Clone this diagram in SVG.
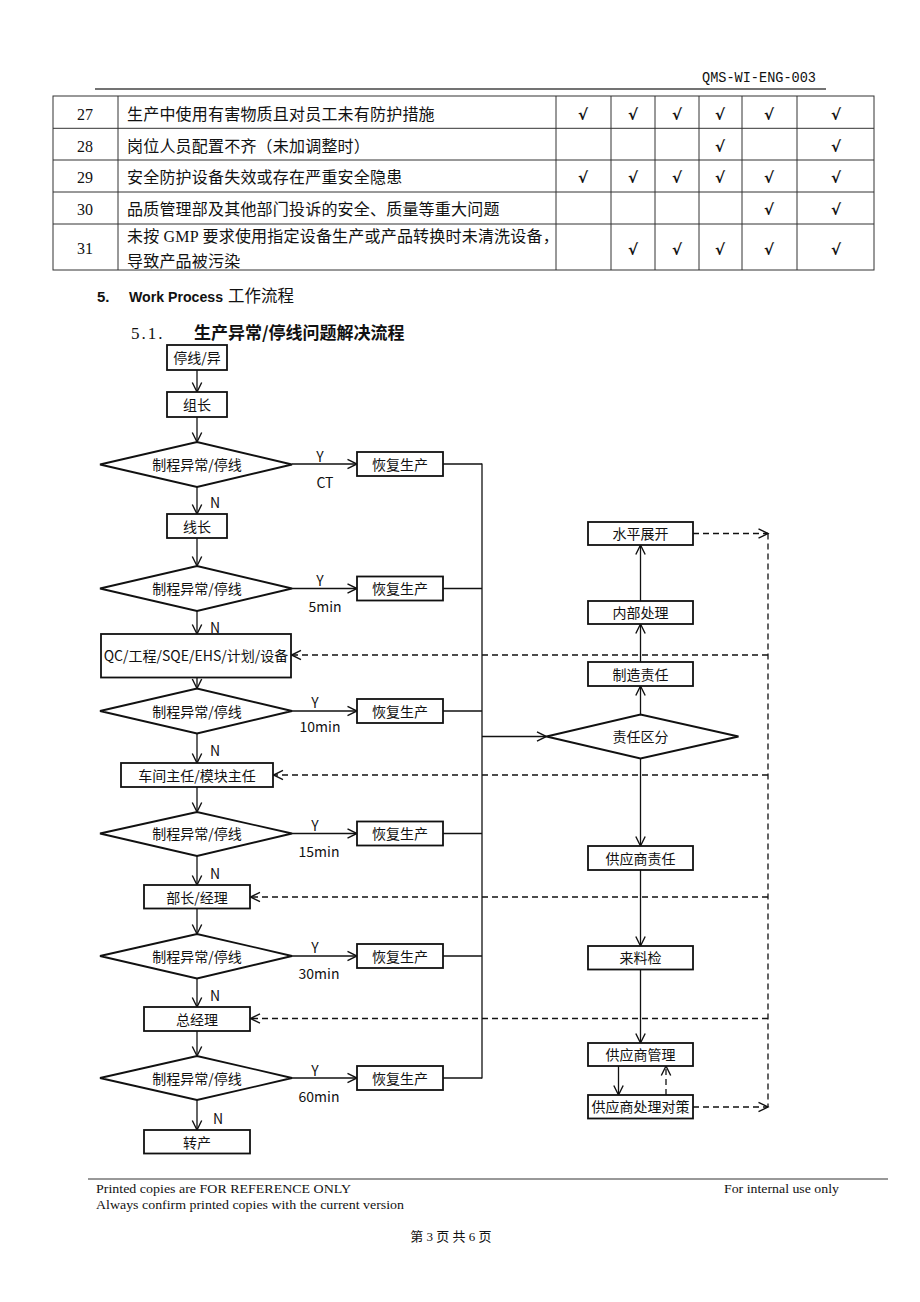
<svg xmlns="http://www.w3.org/2000/svg" width="920" height="1302" viewBox="0 0 920 1302">
<style>
.bg{fill:#fff}
.tl{stroke:#333;stroke-width:1;fill:none}
.tn{font-family:"Liberation Serif",serif;font-size:16px;fill:#111;text-anchor:middle}
.tt{font-family:"Liberation Serif","Noto Sans CJK SC",serif;font-size:16px;fill:#111;letter-spacing:0.2px}
.ck{font-family:"DejaVu Sans",sans-serif;font-size:15px;font-weight:bold;fill:#111;text-anchor:middle}
.box{fill:#fff;stroke:#111;stroke-width:1.8}
.lbl{font-family:"Noto Sans CJK SC",sans-serif;font-size:14px;fill:#111;text-anchor:middle}
.yl{font-family:"Noto Sans CJK SC",sans-serif;font-size:14px;fill:#111;text-anchor:middle}
.ln{stroke:#111;stroke-width:1.3;fill:none}
.ar{stroke:#111;stroke-width:1.3;fill:none;marker-end:url(#ah)}
.da{stroke:#111;stroke-width:1.3;fill:none;stroke-dasharray:6,4}
.dar{stroke:#111;stroke-width:1.3;fill:none;stroke-dasharray:6,4;marker-end:url(#ah)}
.ft{font-family:"Liberation Serif","Noto Sans CJK SC",serif;font-size:13px;fill:#111}
</style>
<defs>
<marker id="ah" viewBox="0 0 10 10" refX="9.5" refY="5" markerWidth="10" markerHeight="10" markerUnits="userSpaceOnUse" orient="auto" overflow="visible">
<path d="M0,0.3 L9.5,5 L0,9.7" fill="none" stroke="#111" stroke-width="1.4"/>
</marker>
</defs>
<rect class="bg" x="0" y="0" width="920" height="1302"/>

<g id="header">
<text x="702" y="82" font-family="Liberation Mono,monospace" font-size="14" fill="#111" textLength="114" lengthAdjust="spacingAndGlyphs">QMS-WI-ENG-003</text>
<line x1="95" y1="89" x2="826" y2="89" stroke="#444" stroke-width="1.6"/>
</g>

<g id="table">
<rect class="tl" x="53" y="96" width="821" height="174"/>
<line class="tl" x1="53" y1="128.3" x2="874" y2="128.3"/>
<line class="tl" x1="53" y1="160" x2="874" y2="160"/>
<line class="tl" x1="53" y1="192" x2="874" y2="192"/>
<line class="tl" x1="53" y1="224" x2="874" y2="224"/>
<line class="tl" x1="118" y1="96" x2="118" y2="270"/>
<line class="tl" x1="556" y1="96" x2="556" y2="270"/>
<line class="tl" x1="611" y1="96" x2="611" y2="270"/>
<line class="tl" x1="655" y1="96" x2="655" y2="270"/>
<line class="tl" x1="699" y1="96" x2="699" y2="270"/>
<line class="tl" x1="742" y1="96" x2="742" y2="270"/>
<line class="tl" x1="797" y1="96" x2="797" y2="270"/>
<text class="tn" x="85" y="120">27</text>
<text class="tn" x="85" y="152">28</text>
<text class="tn" x="85" y="183">29</text>
<text class="tn" x="85" y="215">30</text>
<text class="tn" x="85" y="254">31</text>
<text class="tt" x="127" y="120">生产中使用有害物质且对员工未有防护措施</text>
<text class="tt" x="127" y="152">岗位人员配置不齐（未加调整时）</text>
<text class="tt" x="127" y="183">安全防护设备失效或存在严重安全隐患</text>
<text class="tt" x="127" y="215">品质管理部及其他部门投诉的安全、质量等重大问题</text>
<text class="tt" x="127" y="242">未按 GMP 要求使用指定设备生产或产品转换时未清洗设备，</text>
<text class="tt" x="127" y="267">导致产品被污染</text>
<g class="ck">
<text x="583" y="120">√</text><text x="633" y="120">√</text><text x="677" y="120">√</text><text x="720" y="120">√</text><text x="769" y="120">√</text><text x="836" y="120">√</text>
<text x="720" y="152">√</text><text x="836" y="152">√</text>
<text x="583" y="183">√</text><text x="633" y="183">√</text><text x="677" y="183">√</text><text x="720" y="183">√</text><text x="769" y="183">√</text><text x="836" y="183">√</text>
<text x="769" y="215">√</text><text x="836" y="215">√</text>
<text x="633" y="255">√</text><text x="677" y="255">√</text><text x="720" y="255">√</text><text x="769" y="255">√</text><text x="836" y="255">√</text>
</g>
</g>

<g id="headings">
<text x="97" y="302" font-family="Liberation Sans,sans-serif" font-size="15" font-weight="bold" fill="#111">5.</text>
<text x="129" y="302" font-family="Liberation Sans,sans-serif" font-size="15" font-weight="bold" fill="#111" textLength="94" lengthAdjust="spacingAndGlyphs">Work Process</text>
<text x="228" y="302" font-family="Noto Sans CJK SC,sans-serif" font-size="16.5" fill="#111">工作流程</text>
<text x="131" y="339" font-family="Liberation Serif,serif" font-size="17" fill="#111" letter-spacing="2">5.1.</text>
<text x="194" y="339" font-family="Noto Sans CJK SC,sans-serif" font-size="17" font-weight="bold" fill="#111">生产异常/停线问题解决流程</text>
</g>

<g id="connectors">
<line class="ar" x1="197" y1="370" x2="197" y2="392"/>
<line class="ar" x1="197" y1="417" x2="197" y2="442"/>
<line class="ar" x1="197" y1="487" x2="197" y2="514"/>
<line class="ar" x1="197" y1="538" x2="197" y2="566"/>
<line class="ar" x1="197" y1="611" x2="197" y2="634"/>
<line class="ar" x1="197" y1="677.5" x2="197" y2="688.5"/>
<line class="ar" x1="197" y1="733.5" x2="197" y2="763"/>
<line class="ar" x1="197" y1="787" x2="197" y2="812"/>
<line class="ar" x1="197" y1="856" x2="197" y2="885"/>
<line class="ar" x1="197" y1="908.5" x2="197" y2="934"/>
<line class="ar" x1="197" y1="978.5" x2="197" y2="1007"/>
<line class="ar" x1="197" y1="1031" x2="197" y2="1056"/>
<line class="ar" x1="197" y1="1100" x2="197" y2="1130"/>
<line class="ar" x1="292" y1="464" x2="357" y2="464"/>
<line class="ar" x1="292" y1="588.5" x2="357" y2="588.5"/>
<line class="ar" x1="292" y1="711" x2="357" y2="711"/>
<line class="ar" x1="292" y1="833.5" x2="357" y2="833.5"/>
<line class="ar" x1="292" y1="956" x2="357" y2="956"/>
<line class="ar" x1="292" y1="1078" x2="357" y2="1078"/>
<line class="ln" x1="443" y1="464" x2="482" y2="464"/>
<line class="ln" x1="443" y1="588.5" x2="482" y2="588.5"/>
<line class="ln" x1="443" y1="711" x2="482" y2="711"/>
<line class="ln" x1="443" y1="833.5" x2="482" y2="833.5"/>
<line class="ln" x1="443" y1="956" x2="482" y2="956"/>
<line class="ln" x1="443" y1="1078" x2="482" y2="1078"/>
<line class="ln" x1="482" y1="463.4" x2="482" y2="1078.6"/>
<line class="ar" x1="482" y1="736.5" x2="546.5" y2="736.5"/>
<line class="ar" x1="640.5" y1="714.5" x2="640.5" y2="686"/>
<line class="ar" x1="640.5" y1="662" x2="640.5" y2="624"/>
<line class="ar" x1="640.5" y1="601" x2="640.5" y2="545"/>
<line class="ar" x1="640.5" y1="758.5" x2="640.5" y2="846"/>
<line class="ar" x1="640.5" y1="870" x2="640.5" y2="946"/>
<line class="ar" x1="640.5" y1="969.5" x2="640.5" y2="1043"/>
<line class="ar" x1="618.5" y1="1066" x2="618.5" y2="1095"/>
<line class="dar" x1="666" y1="1095" x2="666" y2="1066"/>
<line class="dar" x1="693" y1="533.5" x2="768" y2="533.5"/>
<line class="dar" x1="693" y1="1107" x2="768" y2="1107"/>
<line class="da" x1="768" y1="533.5" x2="768" y2="1107"/>
<line class="dar" x1="768" y1="655" x2="291.5" y2="655"/>
<line class="dar" x1="768" y1="775" x2="273.5" y2="775"/>
<line class="dar" x1="768" y1="897" x2="250.5" y2="897"/>
<line class="dar" x1="768" y1="1018.5" x2="250.5" y2="1018.5"/>
</g>

<g id="labels">
<text class="yl" x="320" y="462">Y</text><text class="yl" x="325" y="488">CT</text>
<text class="yl" x="320" y="586">Y</text><text class="yl" x="325" y="612">5min</text>
<text class="yl" x="315" y="708">Y</text><text class="yl" x="320" y="732">10min</text>
<text class="yl" x="315" y="831">Y</text><text class="yl" x="319" y="857">15min</text>
<text class="yl" x="315" y="953">Y</text><text class="yl" x="319" y="979">30min</text>
<text class="yl" x="315" y="1076">Y</text><text class="yl" x="319" y="1102">60min</text>
<text class="yl" x="215" y="508">N</text>
<text class="yl" x="215" y="633">N</text>
<text class="yl" x="215" y="756">N</text>
<text class="yl" x="215" y="879">N</text>
<text class="yl" x="215" y="1001">N</text>
<text class="yl" x="218" y="1124">N</text>
</g>

<g id="n-start"><rect class="box" x="167" y="345" width="60" height="25"/><text class="lbl" x="197" y="363">停线/异</text></g>
<g id="n-zuzhang"><rect class="box" x="167" y="392" width="60" height="25"/><text class="lbl" x="197" y="410">组长</text></g>
<g id="d1"><polygon class="box" points="100,464.5 197,442 292,464.5 197,487"/><text class="lbl" x="197" y="470">制程异常/停线</text></g>
<g id="r1"><rect class="box" x="357" y="452" width="86" height="24"/><text class="lbl" x="400" y="469.5">恢复生产</text></g>
<g id="n-xianzhang"><rect class="box" x="167" y="514" width="60" height="24"/><text class="lbl" x="197" y="531.5">线长</text></g>
<g id="d2"><polygon class="box" points="100,588.5 197,566 292,588.5 197,611"/><text class="lbl" x="197" y="594">制程异常/停线</text></g>
<g id="r2"><rect class="box" x="357" y="576.5" width="86" height="24"/><text class="lbl" x="400" y="594">恢复生产</text></g>
<g id="n-qc"><rect class="box" x="101" y="634" width="190" height="43.5"/><text class="lbl" x="196" y="661">QC/工程/SQE/EHS/计划/设备</text></g>
<g id="d3"><polygon class="box" points="100,711 197,688.5 292,711 197,733.5"/><text class="lbl" x="197" y="716.5">制程异常/停线</text></g>
<g id="r3"><rect class="box" x="357" y="699" width="86" height="24"/><text class="lbl" x="400" y="716.5">恢复生产</text></g>
<g id="n-chejian"><rect class="box" x="121" y="763" width="152" height="24"/><text class="lbl" x="197" y="780.5">车间主任/模块主任</text></g>
<g id="d4"><polygon class="box" points="100,833.5 197,812 292,833.5 197,856"/><text class="lbl" x="197" y="839">制程异常/停线</text></g>
<g id="r4"><rect class="box" x="357" y="821.5" width="86" height="24"/><text class="lbl" x="400" y="839">恢复生产</text></g>
<g id="n-buzhang"><rect class="box" x="144" y="885" width="106" height="23.5"/><text class="lbl" x="197" y="902.5">部长/经理</text></g>
<g id="d5"><polygon class="box" points="100,956 197,934 292,956 197,978.5"/><text class="lbl" x="197" y="961.5">制程异常/停线</text></g>
<g id="r5"><rect class="box" x="357" y="944" width="86" height="24"/><text class="lbl" x="400" y="961.5">恢复生产</text></g>
<g id="n-zongjingli"><rect class="box" x="144" y="1007" width="106" height="24"/><text class="lbl" x="197" y="1024.5">总经理</text></g>
<g id="d6"><polygon class="box" points="100,1078 197,1056 292,1078 197,1100"/><text class="lbl" x="197" y="1083.5">制程异常/停线</text></g>
<g id="r6"><rect class="box" x="357" y="1066" width="86" height="24"/><text class="lbl" x="400" y="1083.5">恢复生产</text></g>
<g id="n-zhuanchan"><rect class="box" x="144" y="1130" width="106" height="23.5"/><text class="lbl" x="197" y="1147.5">转产</text></g>

<g id="n-shuiping"><rect class="box" x="588" y="522" width="105" height="23"/><text class="lbl" x="640.5" y="539">水平展开</text></g>
<g id="n-neibu"><rect class="box" x="588" y="601" width="105" height="23"/><text class="lbl" x="640.5" y="618">内部处理</text></g>
<g id="n-zhizao"><rect class="box" x="588" y="662" width="105" height="24"/><text class="lbl" x="640.5" y="679.5">制造责任</text></g>
<g id="d-zeren"><polygon class="box" points="546.5,736.5 640.5,714.5 738.5,736.5 640.5,758.5"/><text class="lbl" x="640.5" y="742">责任区分</text></g>
<g id="n-gysze"><rect class="box" x="588" y="846" width="105" height="24"/><text class="lbl" x="640.5" y="863.5">供应商责任</text></g>
<g id="n-laoliao"><rect class="box" x="588" y="946" width="105" height="23.5"/><text class="lbl" x="640.5" y="963">来料检</text></g>
<g id="n-gysgl"><rect class="box" x="588" y="1043" width="105" height="23"/><text class="lbl" x="640.5" y="1060">供应商管理</text></g>
<g id="n-gyscl"><rect class="box" x="588" y="1095" width="105" height="23.5"/><text class="lbl" x="640.5" y="1112" font-size="13.5">供应商处理对策</text></g>

<g id="footer">
<line x1="88" y1="1179" x2="888" y2="1179" stroke="#333" stroke-width="1"/>
<text class="ft" x="96" y="1193" textLength="255" lengthAdjust="spacingAndGlyphs">Printed copies are FOR REFERENCE ONLY</text>
<text class="ft" x="96" y="1209" textLength="308" lengthAdjust="spacingAndGlyphs">Always confirm printed copies with the current version</text>
<text class="ft" x="724" y="1193" textLength="115" lengthAdjust="spacingAndGlyphs">For internal use only</text>
<text class="ft" x="451" y="1241" text-anchor="middle">第 3 页  共 6 页</text>
</g>
</svg>
